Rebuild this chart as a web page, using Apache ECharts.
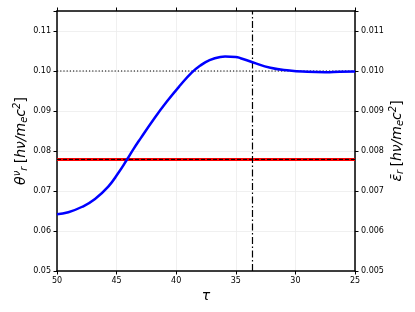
<!DOCTYPE html>
<html><head><meta charset="utf-8">
<script src="https://cdn.jsdelivr.net/npm/echarts@6/dist/echarts.min.js"></script>
<style>html,body{margin:0;padding:0;background:#fff}#c{width:415px;height:312px}</style>
</head><body><div id="c"></div>
<script>
// data
const tau = [50, 49.05, 47.93, 46.81, 45.7, 44.86, 44.1, 43.6, 43.0, 41.9, 40.8, 39.7, 38.7, 38.0, 37.2, 36.3, 35.9, 35.0, 34.6, 33.6, 32.1, 30.5, 29.0, 27.5, 26.3, 25];
const theta = [0.0642, 0.0647, 0.0660, 0.0680, 0.0711, 0.0745, 0.0780, 0.0804, 0.0831, 0.0879, 0.0923, 0.0963, 0.0996, 0.1013, 0.1027, 0.1035, 0.1036, 0.1035, 0.1032, 0.1022, 0.1008, 0.1001, 0.0998, 0.0997, 0.0998, 0.0999];
const epsTau = [50, 25];
const eps = [0.00779, 0.00779];
const thetaRef = 0.10;      // dotted reference level
const epsRef = 0.00779;     // dashed reference level
const tauMark = 33.6;       // dash-dot vertical
const xTicks = [50, 45, 40, 35, 30, 25];
const yLeftTicks = [0.05, 0.06, 0.07, 0.08, 0.09, 0.10, 0.11];
const yRightTicks = [0.005, 0.006, 0.007, 0.008, 0.009, 0.010, 0.011];

const FONT = 'DejaVu Sans';
const chart = echarts.init(document.getElementById('c'), null, {renderer: 'canvas'});
const axisLine = {show: true, lineStyle: {color: '#000', width: 1.5}};
const tick = {show: true, inside: false, length: 3.5, lineStyle: {color: '#000', width: 1}};
const grid = {show: true, lineStyle: {color: '#ececec', width: 0.8}};
const nameRich = {
  it: {fontFamily: FONT, fontStyle: 'italic', fontSize: 14, color: '#000'},
  n: {fontFamily: FONT, fontSize: 14, color: '#000'},
  sup: {fontFamily: FONT, fontStyle: 'italic', fontSize: 10, color: '#000', padding: [0, 0, 8, 0]},
  sub: {fontFamily: FONT, fontStyle: 'italic', fontSize: 10, color: '#000', padding: [6, 0, 0, 0]}
};
const pair = (xs, ys) => xs.map((x, i) => [x, ys[i]]);
const isTick = (arr, v) => arr.some(t => Math.abs(t - v) < 1e-9);

chart.setOption({
  animation: false,
  backgroundColor: '#fff',
  grid: {left: 57, right: 60, top: 11, bottom: 41, containLabel: false, outerBoundsMode: 'none'},
  xAxis: [{
    type: 'value', min: 25, max: 50, interval: 5, inverse: true, position: 'bottom',
    axisLine, axisTick: tick, splitLine: grid,
    axisLabel: {fontFamily: FONT, fontSize: 8, color: '#000', margin: 6,
      formatter: v => isTick(xTicks, v) ? String(v) : ''},
    name: '{it|τ}', nameLocation: 'middle', nameGap: 18, nameMoveOverlap: false,
    nameTextStyle: {rich: nameRich}
  }, {
    type: 'value', min: 25, max: 50, interval: 5, inverse: true, position: 'top',
    axisLine, axisTick: tick, splitLine: {show: false}, axisLabel: {show: false}
  }],
  yAxis: [{
    type: 'value', min: 0.05, max: 0.115, interval: 0.01, position: 'left',
    axisLine, axisTick: tick, splitLine: grid,
    axisLabel: {fontFamily: FONT, fontSize: 8, color: '#000', margin: 6,
      formatter: v => isTick(yLeftTicks, v) ? v.toFixed(2) : ''},
    name: '{it|θ}{sup|ν}{sub|r} {n|[}{it|hν/m}{sub|e}{it|c}{sup|2}{n|]}',
    nameLocation: 'middle', nameRotate: 90, nameGap: 27, nameMoveOverlap: false,
    nameTextStyle: {rich: nameRich}
  }, {
    type: 'value', min: 0.005, max: 0.0115, interval: 0.001, position: 'right',
    axisLine, axisTick: tick, splitLine: {show: false},
    axisLabel: {fontFamily: FONT, fontSize: 8, color: '#000', margin: 6,
      formatter: v => isTick(yRightTicks, v) ? v.toFixed(3) : ''},
    name: '{it|ε̄}{sub|r} {n|[}{it|hν/m}{sub|e}{it|c}{sup|2}{n|]}',
    nameLocation: 'middle', nameRotate: 90, nameGap: 33, nameMoveOverlap: false,
    nameTextStyle: {rich: nameRich}
  }],
  series: [
    {type: 'line', yAxisIndex: 1, data: pair(epsTau, eps), showSymbol: false,
      lineStyle: {color: '#ff0000', width: 3}, z: 2},
    {type: 'line', yAxisIndex: 1, data: pair([50, 25], [epsRef, epsRef]), showSymbol: false,
      lineStyle: {color: '#000', width: 1, type: [4, 2]}, z: 3},
    {type: 'line', yAxisIndex: 0, data: pair(tau, theta), showSymbol: false, smooth: 0.5,
      lineStyle: {color: '#0000ff', width: 2.5}, z: 4},
    {type: 'line', yAxisIndex: 0, data: pair([50, 25], [thetaRef, thetaRef]), showSymbol: false,
      lineStyle: {color: '#000', width: 1.2, type: [1.2, 2]}, z: 3},
    {type: 'line', yAxisIndex: 0, data: pair([tauMark, tauMark], [0.05, 0.115]), showSymbol: false,
      lineStyle: {color: '#000', width: 1.2, type: [7, 2.5, 1.5, 2.5]}, z: 3}
  ]
});
</script></body></html>
